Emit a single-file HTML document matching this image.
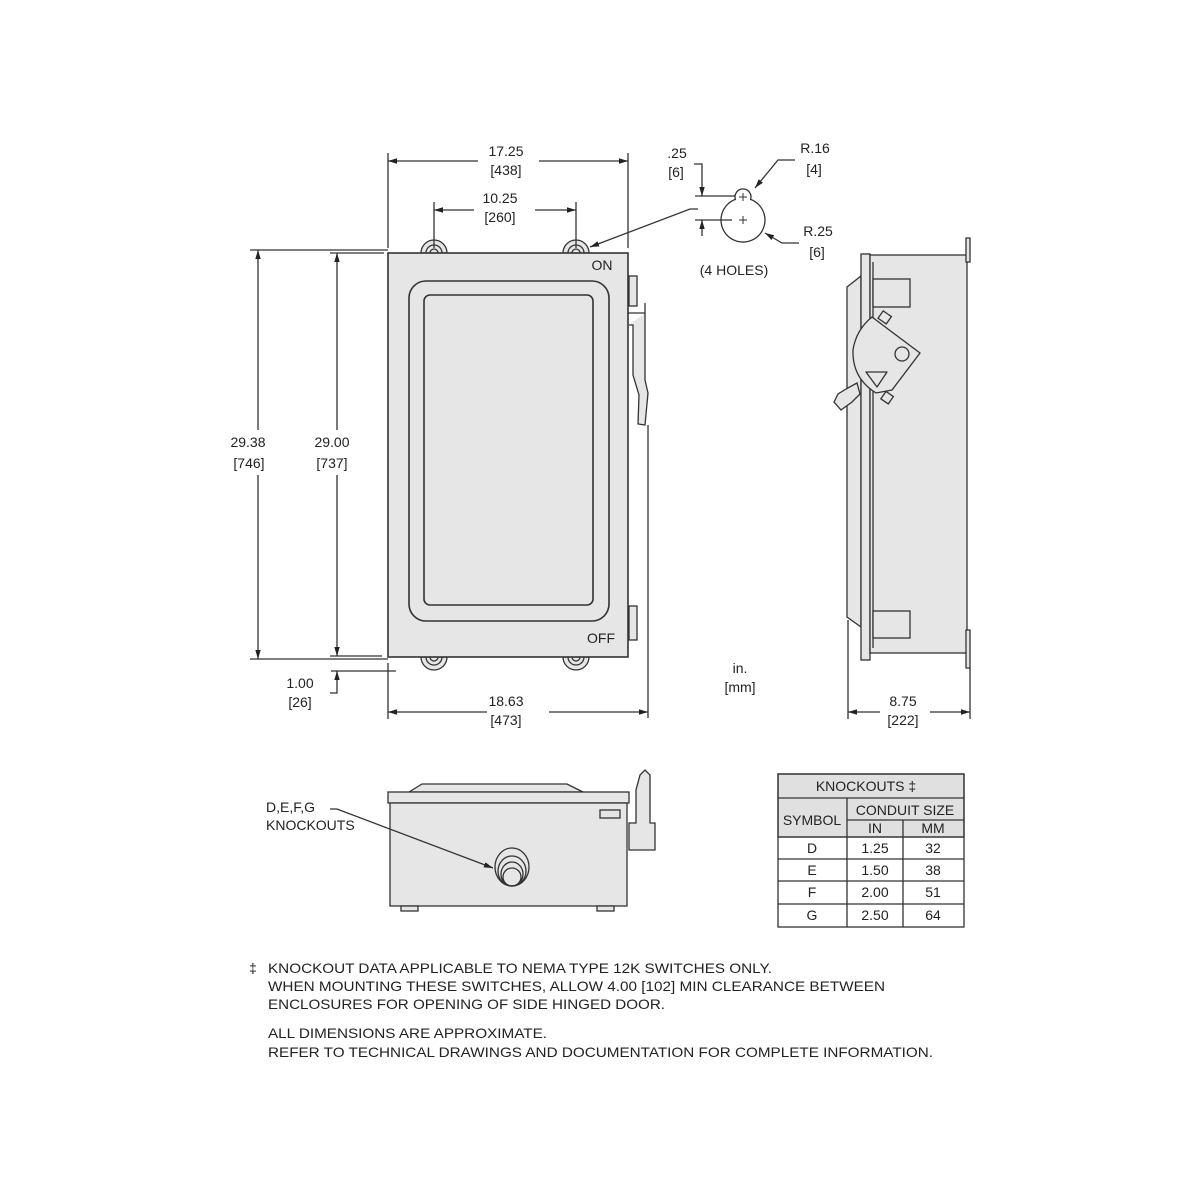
<!DOCTYPE html>
<html><head><meta charset="utf-8"><style>
html,body{margin:0;padding:0;background:#fff}
svg{display:block}
text{font-family:"Liberation Sans",Arial,sans-serif;fill:#222;font-size:14px}
</style></head><body>
<svg width="1200" height="1200" viewBox="0 0 1200 1200" xmlns="http://www.w3.org/2000/svg">
<defs>
<marker id="a" viewBox="0 0 10 10" refX="10" refY="5" markerWidth="7" markerHeight="7" orient="auto-start-reverse"><path d="M0,2 L10,5 L0,8 z" fill="#222"/></marker>
</defs>
<g stroke="#333" stroke-width="1.3" fill="none">
<g fill="#e6e6e6">
<path d="M421,253 A13,13 0 0 1 447,253 Z"/><path d="M426,253 A8,8 0 0 1 442,253"/><path d="M430,253 A4,4 0 0 1 438,253"/>
<path d="M563,253 A13,13 0 0 1 589,253 Z"/><path d="M568,253 A8,8 0 0 1 584,253"/><path d="M572,253 A4,4 0 0 1 580,253"/>
<path d="M421,657 A13,13 0 0 0 447,657 Z"/><path d="M426,657 A8,8 0 0 0 442,657"/><path d="M430,657 A4,4 0 0 0 438,657"/>
<path d="M563,657 A13,13 0 0 0 589,657 Z"/><path d="M568,657 A8,8 0 0 0 584,657"/><path d="M572,657 A4,4 0 0 0 580,657"/>
</g>
<rect x="388" y="253" width="240" height="404" fill="#e6e6e6" stroke-width="1.6"/>
<rect x="409" y="281" width="200" height="340" rx="17" stroke-width="1.6"/>
<rect x="424" y="295" width="169" height="310" rx="6" stroke-width="1.6"/>
<rect x="629" y="276" width="8" height="30" fill="#e6e6e6"/>
<rect x="629" y="606" width="8" height="34" fill="#e6e6e6"/>
<path d="M628,313 L645,313 L645,303" />
<path d="M629,325 L633,325 L633,375 L639,395 L638,424 L645,425 L648,393 L645,380 L645,313" fill="#e6e6e6"/>
<line x1="648" y1="425" x2="648" y2="718"/>
<line x1="388" y1="153" x2="388" y2="248"/>
<line x1="628" y1="153" x2="628" y2="248"/>
<line x1="388" y1="161" x2="478" y2="161" marker-start="url(#a)"/>
<line x1="539" y1="161" x2="628" y2="161" marker-end="url(#a)"/>
<line x1="434" y1="202" x2="434" y2="248"/>
<line x1="576" y1="202" x2="576" y2="248"/>
<line x1="434" y1="210" x2="474" y2="210" marker-start="url(#a)"/>
<line x1="535" y1="210" x2="576" y2="210" marker-end="url(#a)"/>
<line x1="250" y1="250" x2="388" y2="250"/>
<line x1="330" y1="253" x2="384" y2="253"/>
<line x1="250" y1="659" x2="388" y2="659"/>
<line x1="330" y1="656" x2="382" y2="656"/>
<line x1="258" y1="250" x2="258" y2="430" marker-start="url(#a)"/>
<line x1="258" y1="475" x2="258" y2="659" marker-end="url(#a)"/>
<line x1="337" y1="253" x2="337" y2="430" marker-start="url(#a)"/>
<line x1="337" y1="475" x2="337" y2="656" marker-end="url(#a)"/>
<line x1="331" y1="671" x2="396" y2="671"/>
<path d="M330,693 L337,693 L337,671" marker-end="url(#a)"/>
<line x1="388" y1="663" x2="388" y2="719"/>
<line x1="388" y1="712" x2="487" y2="712" marker-start="url(#a)"/>
<line x1="549" y1="712" x2="648" y2="712" marker-end="url(#a)"/>
<path d="M735.4,199.4 A8,8 0 1 1 750.6,199.4 A22,22 0 1 1 735.4,199.4 Z" />
<path d="M739,197 h8 M743,193 v8 M739,220 h8 M743,216 v8" stroke-width="1"/>
<line x1="695" y1="196" x2="735" y2="196"/>
<line x1="695" y1="220" x2="732" y2="220"/>
<path d="M694,164 L702,164 L702,196" marker-end="url(#a)"/>
<line x1="702" y1="236" x2="702" y2="220" marker-end="url(#a)"/>
<path d="M698,209 L690,209 L590,247" marker-end="url(#a)"/>
<path d="M795,160 L778,160 L755,188" marker-end="url(#a)"/>
<path d="M799,243 L782,243 L765,233" marker-end="url(#a)"/>
<path d="M847,287 L861,276 L861,627 L847,617 Z" fill="#e6e6e6"/>
<rect x="861" y="254" width="9" height="406" fill="#e6e6e6"/>
<rect x="870" y="255" width="97" height="398" fill="#e6e6e6"/>
<line x1="873" y1="262" x2="873" y2="648"/>
<path d="M966,238 L970,238 L970,262 L966,262 Z M966,630 L970,630 L970,668 L966,668 Z" fill="#e6e6e6"/>
<rect x="873" y="279" width="37" height="28" fill="#e6e6e6"/>
<rect x="873" y="611" width="37" height="27" fill="#e6e6e6"/>
<line x1="848" y1="620" x2="848" y2="719"/>
<line x1="970" y1="668" x2="970" y2="719"/>
<line x1="848" y1="712" x2="880" y2="712" marker-start="url(#a)"/>
<line x1="930" y1="712" x2="970" y2="712" marker-end="url(#a)"/>
<path d="M872,317 L920,353 L892,390 L876,393 Q852,378 853,350 Q856,330 872,317 Z" fill="#e6e6e6"/>
<rect x="880" y="313" width="10" height="9" transform="rotate(35 885 317)" fill="#e6e6e6"/>
<rect x="883" y="393" width="9" height="9" transform="rotate(35 887 397)" fill="#e6e6e6"/>
<circle cx="902" cy="354" r="7"/>
<path d="M866,372 L887,372 L877,387 Z" stroke-linejoin="round"/>
<path d="M857,383 L846,389 L838,394 L834,402 L841,410 L852,402 L860,394 Z" fill="#e6e6e6"/>
<path d="M409,792 L422,784 L567,784 L583,792 Z" fill="#e6e6e6"/>
<rect x="388" y="792" width="241" height="11" fill="#e6e6e6"/>
<rect x="390" y="803" width="237" height="103" fill="#e6e6e6"/>
<rect x="600" y="810" width="20" height="8"/>
<rect x="401" y="906" width="17" height="5" fill="#e6e6e6"/>
<rect x="597" y="906" width="17" height="5" fill="#e6e6e6"/>
<path d="M629,823 L636,823 L636,790 L640,775 L645,770 L650,775 L650,823 L655,823 L655,850 L629,850 Z" fill="#e6e6e6"/>
<ellipse cx="512" cy="867" rx="17" ry="19" fill="#e6e6e6"/>
<ellipse cx="512" cy="871" rx="14" ry="15"/>
<ellipse cx="512" cy="874" rx="11" ry="12"/>
<ellipse cx="512" cy="877" rx="9" ry="9"/>
<path d="M330,809 L337,809 L493,868" marker-end="url(#a)"/>
<rect x="778" y="774" width="186" height="63" fill="#e0e0e0"/>
<rect x="778" y="774" width="186" height="153"/>
<line x1="778" y1="798" x2="964" y2="798"/>
<line x1="847" y1="820" x2="964" y2="820"/>
<line x1="778" y1="837" x2="964" y2="837"/>
<line x1="778" y1="859" x2="964" y2="859"/>
<line x1="778" y1="881" x2="964" y2="881"/>
<line x1="778" y1="904" x2="964" y2="904"/>
<line x1="847" y1="798" x2="847" y2="927"/>
<line x1="903" y1="820" x2="903" y2="927"/>
</g>
<g text-anchor="middle">
<text x="506" y="156">17.25</text><text x="506" y="175">[438]</text>
<text x="500" y="203">10.25</text><text x="500" y="222">[260]</text>
<text x="248" y="447">29.38</text><text x="249" y="468">[746]</text>
<text x="332" y="447">29.00</text><text x="332" y="468">[737]</text>
<text x="300" y="688">1.00</text><text x="300" y="707">[26]</text>
<text x="506" y="706">18.63</text><text x="506" y="725">[473]</text>
<text x="903" y="706">8.75</text><text x="903" y="725">[222]</text>
<text x="740" y="673">in.</text><text x="740" y="692">[mm]</text>
<text x="677" y="158">.25</text><text x="676" y="177">[6]</text>
<text x="815" y="153">R.16</text><text x="814" y="174">[4]</text>
<text x="818" y="236">R.25</text><text x="817" y="257">[6]</text>
<text x="734" y="275">(4 HOLES)</text>
<text x="602" y="270" font-size="10">ON</text>
<text x="601" y="643" font-size="10">OFF</text>
<text x="866" y="791" font-size="12">KNOCKOUTS ‡</text>
<text x="905" y="815" font-size="12">CONDUIT SIZE</text>
<text x="812" y="825" font-size="12">SYMBOL</text>
<text x="875" y="833" font-size="12">IN</text><text x="933" y="833" font-size="12">MM</text>
<text x="812" y="853" font-size="12">D</text><text x="875" y="853" font-size="12">1.25</text><text x="933" y="853" font-size="12">32</text>
<text x="812" y="875" font-size="12">E</text><text x="875" y="875" font-size="12">1.50</text><text x="933" y="875" font-size="12">38</text>
<text x="812" y="897" font-size="12">F</text><text x="875" y="897" font-size="12">2.00</text><text x="933" y="897" font-size="12">51</text>
<text x="812" y="920" font-size="12">G</text><text x="875" y="920" font-size="12">2.50</text><text x="933" y="920" font-size="12">64</text>
</g>
<text x="266" y="812">D,E,F,G</text>
<text x="266" y="830">KNOCKOUTS</text>
<text x="249" y="973" font-size="12">‡</text>
<text x="268" y="973" textLength="504" lengthAdjust="spacingAndGlyphs">KNOCKOUT DATA APPLICABLE TO NEMA TYPE 12K SWITCHES ONLY.</text>
<text x="268" y="991" textLength="617" lengthAdjust="spacingAndGlyphs">WHEN MOUNTING THESE SWITCHES, ALLOW 4.00 [102] MIN CLEARANCE BETWEEN</text>
<text x="268" y="1009" textLength="397" lengthAdjust="spacingAndGlyphs">ENCLOSURES FOR OPENING OF SIDE HINGED DOOR.</text>
<text x="268" y="1038" textLength="279" lengthAdjust="spacingAndGlyphs">ALL DIMENSIONS ARE APPROXIMATE.</text>
<text x="268" y="1057" textLength="665" lengthAdjust="spacingAndGlyphs">REFER TO TECHNICAL DRAWINGS AND DOCUMENTATION FOR COMPLETE INFORMATION.</text>
</svg>
</body></html>
